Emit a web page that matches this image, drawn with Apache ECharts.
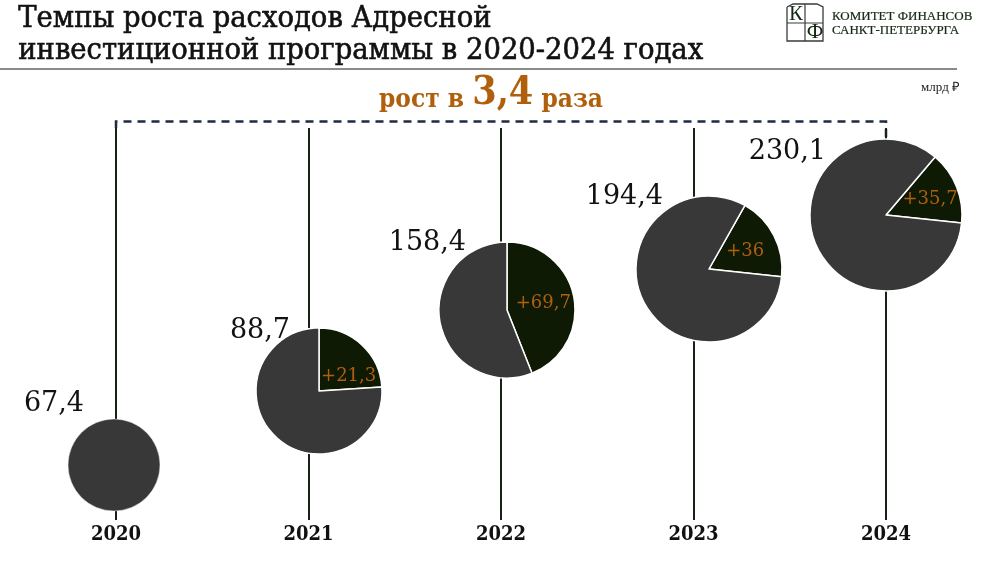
<!DOCTYPE html>
<html><head><meta charset="utf-8">
<script src="https://cdn.jsdelivr.net/npm/echarts@6/dist/echarts.min.js"></script>
<style>html,body{margin:0;padding:0;background:#fff}#c{width:990px;height:580px}</style>
</head><body><div id="c"></div>
<script>
// ---- data ----
const years = ['2020', '2021', '2022', '2023', '2024'];
const totals = [67.4, 88.7, 158.4, 194.4, 230.1];
const increases = [null, 21.3, 69.7, 36, 35.7];
const growthText = '3,4';

// ---- layout (pixels) ----
const pieCenters = [[114, 465], [319, 391], [507, 310], [709, 269], [886, 215]];
const pieRadii = [46, 63, 68, 73, 76];
const pieStart = [90, 90, 90, 60.5, 49.8];
const innerLabelPad = [null, [0, 0, 0, 12], [0, 0, 0, 0], [4, 0, 0, 2], [4, 0, 0, 12]];
const innerLabelDrop = [false, true, false, false, false];
const valueLabelPos = [[84, 404], [290, 331], [466, 243], [663, 197], [826, 152]];

const fmt = v => String(v).replace('.', ',');
const SERIF = "'DejaVu Serif', serif";
const COND = "'DejaVu Serif Condensed', 'DejaVu Serif', serif";
const GREY = '#383838', DARK = '#0e1a04', ORANGE = '#b0600c';

const chart = echarts.init(document.getElementById('c'), null, {renderer: 'canvas'});

const series = years.map((y, i) => {
  const data = [];
  if (increases[i] != null) {
    data.push({value: increases[i], name: '+', itemStyle: {color: DARK},
      label: {show: true, position: 'inside', formatter: (innerLabelDrop[i] ? '\n' : '') + '+' + fmt(increases[i]),
        color: ORANGE, fontFamily: SERIF, fontSize: 18, lineHeight: 20, padding: innerLabelPad[i]}});
    data.push({value: +(totals[i] - increases[i]).toFixed(1), name: 'base', itemStyle: {color: GREY}, label: {show: false}});
  } else {
    data.push({value: totals[i], name: 'base', itemStyle: {color: GREY}, label: {show: false}});
  }
  return {
    type: 'pie', center: pieCenters[i], radius: [0, pieRadii[i]], startAngle: pieStart[i],
    clockwise: true, silent: true, animation: false, z: 5,
    itemStyle: {borderColor: '#fff', borderWidth: increases[i] != null ? 1.5 : 0.5},
    labelLine: {show: false}, emphasis: {disabled: true}, data
  };
});

const graphics = [
  {type: 'text', left: 18, top: 3, style: {text: 'Темпы роста расходов Адресной\nинвестиционной программы в 2020-2024 годах',
    font: "30.5px " + COND, fill: '#111', stroke: '#111', lineWidth: 0.6, lineHeight: 32}},
  {type: 'line', shape: {x1: 0, y1: 69, x2: 957, y2: 69}, style: {stroke: '#8a8a8a', lineWidth: 2}},
  // logo
  {type: 'polyline', shape: {points: [[787, 7], [793, 4], [817, 4], [823, 7], [823, 41], [787, 41], [787, 7]]}, style: {stroke: '#3a3a3a', lineWidth: 1.3, fill: 'none'}},
  {type: 'line', shape: {x1: 805, y1: 4, x2: 805, y2: 41}, style: {stroke: '#3a3a3a', lineWidth: 1.2}},
  {type: 'line', shape: {x1: 787, y1: 23, x2: 823, y2: 23}, style: {stroke: '#3a3a3a', lineWidth: 1.2}},
  {type: 'text', x: 796, y: 14.5, style: {text: 'К', font: "21px 'Liberation Serif', serif", fill: '#142814', align: 'center', verticalAlign: 'middle'}},
  {type: 'text', x: 815, y: 32.5, style: {text: 'Ф', font: "21px 'Liberation Serif', serif", fill: '#142814', align: 'center', verticalAlign: 'middle'}},
  {type: 'text', x: 832, y: 17, style: {text: 'КОМИТЕТ ФИНАНСОВ', font: "13px 'Liberation Serif', serif", fill: '#142814', stroke: '#142814', lineWidth: 0.2, verticalAlign: 'middle'}},
  {type: 'text', x: 832, y: 31, style: {text: 'САНКТ-ПЕТЕРБУРГА', font: "13px 'Liberation Serif', serif", fill: '#142814', stroke: '#142814', lineWidth: 0.2, verticalAlign: 'middle'}},
  {type: 'text', x: 960, y: 88, style: {text: 'млрд ₽', font: "13px 'Liberation Serif', serif", fill: '#222', align: 'right', verticalAlign: 'middle'}},
  // growth label
  {type: 'text', x: 491, y: 113, style: {
    text: '{a|рост в }{b|' + growthText + '}{a| раза}', align: 'center', verticalAlign: 'bottom',
    rich: {
      a: {font: "bold 26px " + COND, fill: ORANGE, color: ORANGE, verticalAlign: 'bottom'},
      b: {font: "bold 39px " + COND, fill: ORANGE, color: ORANGE, verticalAlign: 'bottom'}
    }}},
  // bracket
  {type: 'polyline', shape: {points: [[116, 128], [116, 121.5], [886, 121.5], [886, 137]]},
    style: {stroke: '#1f2a44', lineWidth: 2.5, lineDash: [8, 6], fill: 'none'}}
];
years.forEach((y, i) => {
  graphics.push({type: 'text', x: valueLabelPos[i][0], y: valueLabelPos[i][1], z: 10,
    style: {text: fmt(totals[i]), font: "27px 'DejaVu Serif', serif", fill: '#111', align: 'right', verticalAlign: 'middle'}});
});

chart.setOption({
  animation: false,
  grid: {left: 116, right: 104, top: 128, bottom: 60},
  xAxis: {type: 'category', data: years, boundaryGap: false,
    axisLine: {show: false}, axisTick: {show: false},
    splitLine: {show: true, lineStyle: {color: '#162214', width: 2}},
    axisLabel: {margin: 5, fontFamily: COND, fontWeight: 'bold', fontSize: 20, color: '#111'}},
  yAxis: {type: 'value', show: false, min: 0, max: 1, splitLine: {show: false}},
  graphic: graphics,
  series
});
</script></body></html>
